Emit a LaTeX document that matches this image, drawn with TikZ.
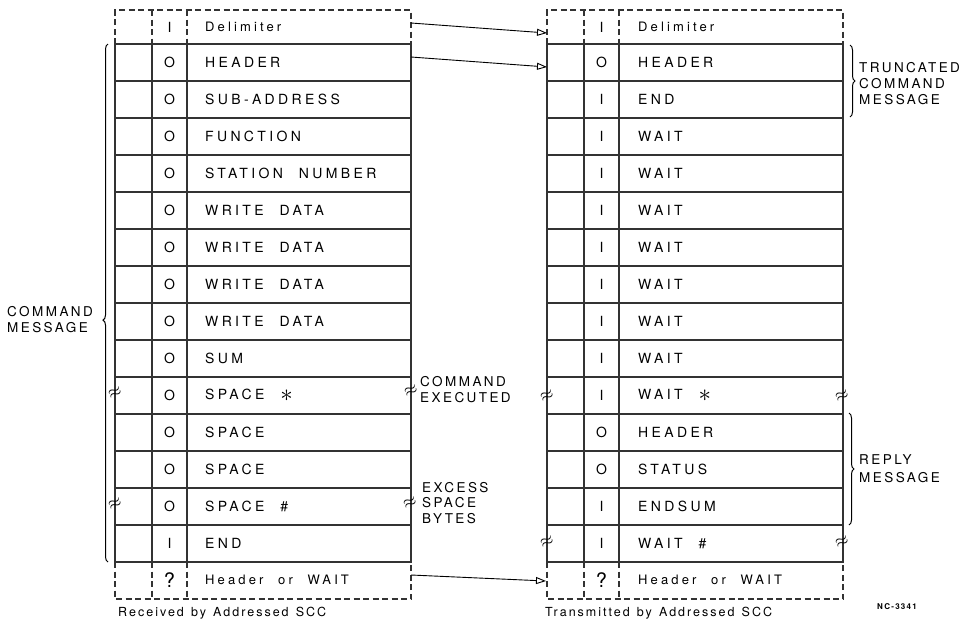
\documentclass[tikz,border=0pt]{standalone}
\usepackage{fontspec}
\usepackage{amsmath}
\usetikzlibrary{arrows.meta,decorations.pathreplacing}
\newfontfamily\rowfont[LetterSpace=24,WordSpace=2.2]{TeX Gyre Heros}
\newfontfamily\labelfont[LetterSpace=18]{TeX Gyre Heros}
\newfontfamily\capfont[LetterSpace=16,WordSpace=1.3]{TeX Gyre Heros}
\newcommand\starmark{\raisebox{-2.5pt}{\fontsize{24}{24}\selectfont$\ast$}}

\begin{document}
\begin{tikzpicture}[x=1pt, y=-1pt, every node/.style={inner sep=0pt},
	frame/.style={line width=1.1pt, black!80},
	open row/.style={frame, dash pattern=on 6pt off 3.5pt},
	bitcell/.style={font=\rowfont\fontsize{14}{14}\selectfont},
	textcell/.style={font=\rowfont\fontsize{14}{14}\selectfont, anchor=west},
	lowcell/.style={font=\rowfont\fontsize{13}{14}\selectfont, anchor=west},
	groupnote/.style={font=\labelfont\fontsize{13.5}{16}\selectfont, align=left, anchor=west},
	undertitle/.style={font=\capfont\fontsize{12.5}{14}\selectfont, anchor=west},
	squig/.style={font=\fontsize{17}{17}\selectfont, rotate=25},
	grp/.style={decorate, decoration={brace, amplitude=5pt}, line width=1pt},
	link/.style={-{Triangle[open, length=10pt, width=7pt]}, line width=0.9pt}]
	\useasboundingbox (0,0) rectangle (967,630);
	% the two byte columns
	\foreach \ox in {0pt,432pt} {
		\begin{scope}[xshift=\ox]
			\draw[frame] (115,44) rectangle (411,562);
			\foreach \i in {1,...,13} \draw[frame] (115,{44+37*\i}) -- (411,{44+37*\i});
			\draw[frame] (152,44) -- (152,562) (187,44) -- (187,562);
			\draw[open row] (115,44) -- (115,10) -- (411,10) -- (411,44) (152,10) -- (152,44) (187,10) -- (187,44);
			\draw[open row] (115,562) -- (115,599) -- (411,599) -- (411,562) (152,562) -- (152,599) (187,562) -- (187,599);
		\end{scope}
	}
	% received side
	\node[bitcell] (lbit0) at (169.5,27) {I};
	\node[lowcell] (ltxt0) at (205,27) {Delimiter};
	\foreach \b/\lbl [count=\i] in {O/HEADER, O/SUB-ADDRESS, O/FUNCTION, O/STATION NUMBER, O/WRITE DATA, O/WRITE DATA, O/WRITE DATA, O/WRITE DATA, O/SUM, O/SPACE \starmark, O/SPACE, O/SPACE, O/SPACE \#, I/END} {
		\node[bitcell] (lbit\i) at (169.5,{25.5+37*\i}) {\b};
		\node[textcell] (ltxt\i) at (205,{25.5+37*\i}) {\lbl};
	}
	\node[bitcell, font=\rowfont\fontsize{20}{20}\selectfont] (lbit15) at (169.5,580) {?};
	\node[lowcell] (ltxt15) at (205,580) {Header or WAIT};
	% transmitted side
	\node[bitcell] (rbit0) at (601.5,27) {I};
	\node[lowcell] (rtxt0) at (638,27) {Delimiter};
	\foreach \b/\lbl [count=\i] in {O/HEADER, I/END, I/WAIT, I/WAIT, I/WAIT, I/WAIT, I/WAIT, I/WAIT, I/WAIT, I/WAIT \starmark, O/HEADER, O/STATUS, I/ENDSUM, I/WAIT \#} {
		\node[bitcell] (rbit\i) at (601.5,{25.5+37*\i}) {\b};
		\node[textcell] (rtxt\i) at (638,{25.5+37*\i}) {\lbl};
	}
	\node[bitcell, font=\rowfont\fontsize{20}{20}\selectfont] (rbit15) at (601.5,580) {?};
	\node[lowcell] (rtxt15) at (638,580) {Header or WAIT};
	% break marks
	\node[squig] (lsq1) at (115,393) {$\approx$};
	\node[squig] (lsq2) at (411,391) {$\approx$};
	\node[squig] (lsq3) at (115,504) {$\approx$};
	\node[squig] (lsq4) at (410,503) {$\approx$};
	\node[squig] (rsq1) at (547,396) {$\approx$};
	\node[squig] (rsq2) at (842,396) {$\approx$};
	\node[squig] (rsq3) at (547,542) {$\approx$};
	\node[squig] (rsq4) at (842,542) {$\approx$};
	% links between the columns
	\coordinate (lout0) at (411,23);
	\coordinate (rin0) at (547,33);
	\coordinate (lout1) at (411,57);
	\coordinate (rin1) at (547,67);
	\coordinate (lout15) at (411,575);
	\coordinate (rin15) at (546,581);
	\draw[link] (lout0) -- (rin0);
	\draw[link] (lout1) -- (rin1);
	\draw[link] (lout15) -- (rin15);
	% groups
	\draw[grp, decoration={aspect=0.467}] (108,562) -- (108,44);
	\node[groupnote] (cmdmsg) at (7,320) {COMMAND\\MESSAGE};
	\draw[grp] (850,45) -- (850,117);
	\node[groupnote] (trunc) at (859,84) {TRUNCATED\\COMMAND\\MESSAGE};
	\draw[grp] (849,413) -- (849,525);
	\node[groupnote, font=\labelfont\fontsize{13.5}{18}\selectfont] (reply) at (859,469) {REPLY\\MESSAGE};
	\node[groupnote] (executed) at (420,390) {COMMAND\\EXECUTED};
	\node[groupnote, font=\labelfont\fontsize{13.5}{15.5}\selectfont] (excess) at (422,503) {EXCESS\\SPACE\\BYTES};
	% captions
	\node[undertitle] (recv) at (118,613) {Received by Addressed SCC};
	\node[undertitle] (xmit) at (545,613) {Transmitted by Addressed SCC};
	\node[font=\capfont\bfseries\fontsize{8}{8}\selectfont] (drawno) at (897,607) {NC-3341};
\end{tikzpicture}
\end{document}
